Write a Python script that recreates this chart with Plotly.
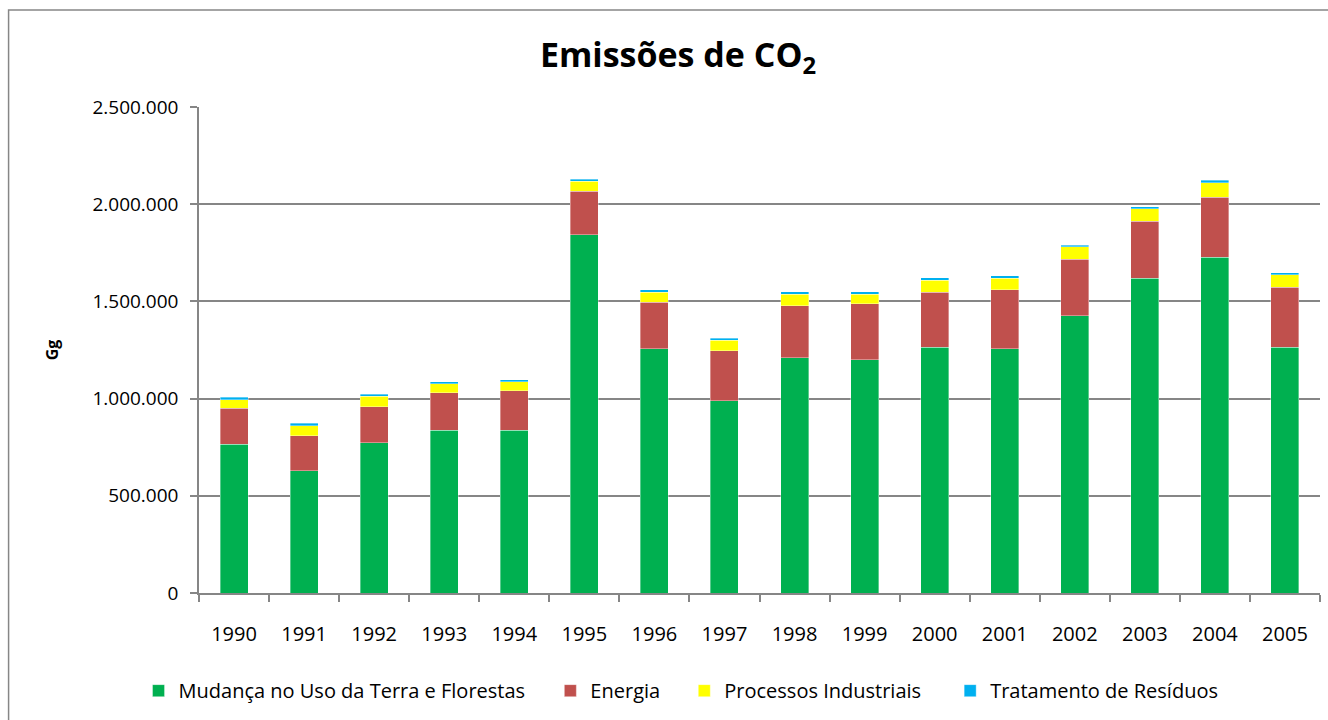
import plotly.graph_objects as go

years = [str(y) for y in range(1990, 2006)]
mudanca = [764000, 628000, 774000, 836000, 836000, 1843000, 1256000, 988000,
           1211000, 1201000, 1263000, 1256000, 1425000, 1620000, 1728000, 1263000]
energia = [187000, 180000, 185000, 193000, 204000, 223000, 240000, 257000,
           266000, 286000, 285000, 303000, 293000, 293000, 309000, 311000]
processos = [42000, 52000, 53000, 47000, 46000, 53000, 51000, 54000,
             61000, 51000, 62000, 61000, 62000, 64000, 74000, 64000]
residuos = [13000, 12000, 11000, 10000, 10000, 10000, 12000, 11000,
            12000, 12000, 12000, 11000, 10000, 10000, 11000, 10000]

series = [
    ("Mudança no Uso da Terra e Florestas", mudanca, "#00B050"),
    ("Energia", energia, "#C0504D"),
    ("Processos Industriais", processos, "#FFFF00"),
    ("Tratamento de Resíduos", residuos, "#00B0F0"),
]
legend_ids = ["legend", "legend2", "legend3", "legend4"]
legend_x_px = [157, 569, 703, 969]  # left edge of each legend swatch

FONT = "Open Sans"
L, R, T, B = 198.5, 8, 107, 126.7
W, H = 1328, 720
pw = W - L - R
ph = H - T - B

fig = go.Figure()
for (name, vals, col), lid in zip(series, legend_ids):
    fig.add_trace(go.Bar(
        x=years, y=vals, name=name, legend=lid,
        marker=dict(color=col, line=dict(width=0.8, color="rgba(255,255,255,0.45)")),
    ))

legends = {}
for lid, xpx in zip(legend_ids, legend_x_px):
    legends[lid] = dict(orientation="h", x=(xpx - 19 - L) / pw, xanchor="left",
                        y=(H - B - 691) / ph, yanchor="middle",
                        font=dict(family=FONT, size=20), itemwidth=30,
                        bgcolor="rgba(0,0,0,0)")

fig.update_layout(
    width=W, height=H,
    barmode="stack", bargap=0.6,
    separators=",.",
    paper_bgcolor="white", plot_bgcolor="white",
    margin=dict(l=L, r=R, t=T, b=B, autoexpand=False),
    font=dict(family=FONT, size=18, color="black"),
    title=dict(text="<b>Emissões de CO<sub>2</sub></b>", x=678 / W, xanchor="center",
               y=1 - 55 / H, yanchor="middle",
               font=dict(family=FONT, size=34, color="black")),
    showlegend=True,
    **legends,
    xaxis=dict(type="category", showline=True, linecolor="#868686", linewidth=1.5,
               ticks="outside", tickson="boundaries", ticklen=7, tickcolor="#868686",
               tickwidth=1.5, ticklabelstandoff=22,
               tickfont=dict(family=FONT, size=20), showgrid=False, fixedrange=True),
    yaxis=dict(range=[0, 2500000], tickvals=[0, 500000, 1000000, 1500000, 2000000, 2500000],
               tickformat=",d", showline=True, linecolor="#868686", linewidth=1.5,
               ticks="outside", ticklen=7, tickcolor="#868686", tickwidth=1.5,
               ticklabelstandoff=8,
               showgrid=True, gridcolor="#868686", gridwidth=1.5, zeroline=False,
               tickfont=dict(family=FONT, size=19),
               title=dict(text="<b>Gg</b>", font=dict(family=FONT, size=16), standoff=30)),
    shapes=[dict(type="rect", xref="paper", yref="paper",
                 x0=(8 - L) / pw, x1=(1340 - L) / pw,
                 y0=(H - B - 740) / ph, y1=(H - B - 10) / ph,
                 line=dict(color="#868686", width=1.5), fillcolor="rgba(0,0,0,0)",
                 layer="below")],
)

fig.write_html("out.html", config={"displayModeBar": False},
               post_script="document.body.style.margin='0';document.body.style.overflow='hidden';")
